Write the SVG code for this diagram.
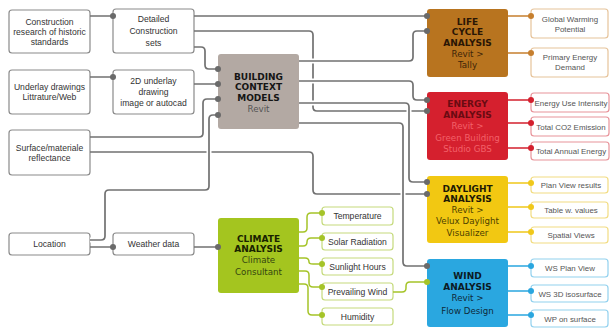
<svg xmlns="http://www.w3.org/2000/svg" width="610" height="328" viewBox="0 0 610 328">
<style>
.box{fill:#fff;stroke:#8a8a8a;stroke-width:1.2}
.t{font-family:"Liberation Sans",Arial,sans-serif;font-size:8.6px;fill:#333;text-anchor:middle}
.o{font-family:"Liberation Sans",Arial,sans-serif;font-size:7.9px;fill:#555;text-anchor:middle}
.h{font-family:"DejaVu Sans",sans-serif;font-weight:bold;font-size:9px;text-anchor:middle}
.s{font-family:"DejaVu Sans",sans-serif;font-size:8.7px;text-anchor:middle}
.g{fill:none;stroke:#717171;stroke-width:1.7}
.halo{fill:none;stroke:#fff;stroke-width:5}
.lca{fill:none;stroke:#c67f2e;stroke-width:1.5}
.en{fill:none;stroke:#d4202e;stroke-width:1.5}
.dl{fill:none;stroke:#f0c81a;stroke-width:1.5}
.wd{fill:none;stroke:#2aa6df;stroke-width:1.5}
.cl{fill:none;stroke:#a5c428;stroke-width:1.5}
.gd{fill:#6a6a6a}
</style>

<g id="n-construction"><rect class="box" x="9" y="10" width="81" height="43" rx="3"/><text class="t" x="49.5" y="25">Construction</text><text class="t" x="49.5" y="35">research of historic</text><text class="t" x="49.5" y="45">standards</text></g>
<g id="n-detailed"><rect class="box" x="113" y="9" width="81" height="44" rx="3"/><text class="t" x="153.5" y="22">Detailed</text><text class="t" x="153.5" y="34">Construction</text><text class="t" x="153.5" y="46">sets</text></g>
<g id="n-underlay"><rect class="box" x="9" y="70" width="81" height="44" rx="3"/><text class="t" x="49.5" y="90">Underlay drawings</text><text class="t" x="49.5" y="100">Littrature/Web</text></g>
<g id="n-2d"><rect class="box" x="113" y="70" width="81" height="44" rx="3"/><text class="t" x="153.5" y="84">2D underlay</text><text class="t" x="153.5" y="95">drawing</text><text class="t" x="153.5" y="106">image or autocad</text></g>
<g id="n-surface"><rect class="box" x="9" y="130" width="81" height="45" rx="3"/><text class="t" x="49.5" y="151">Surface/materiale</text><text class="t" x="49.5" y="161">reflectance</text></g>
<g id="n-location"><rect class="box" x="9" y="233" width="81" height="22" rx="3"/><text class="t" x="49.5" y="247">Location</text></g>
<g id="n-weather"><rect class="box" x="113" y="233" width="81" height="22" rx="3"/><text class="t" x="153.5" y="247">Weather data</text></g>

<g id="n-bcm"><rect x="218" y="54" width="81" height="75" rx="3" fill="#b3a9a3"/><text class="h" x="258.5" y="79.5" fill="#151515">BUILDING</text><text class="h" x="258.5" y="90" fill="#151515">CONTEXT</text><text class="h" x="258.5" y="100.5" fill="#151515">MODELS</text><text class="s" x="258.5" y="112" fill="#555">Revit</text></g>

<g id="n-lca"><rect x="427" y="9" width="81" height="68" rx="3" fill="#b8741f"/><text class="h" x="467.5" y="24.5" fill="#2a1605">LIFE</text><text class="h" x="467.5" y="35" fill="#2a1605">CYCLE</text><text class="h" x="467.5" y="45.5" fill="#2a1605">ANALYSIS</text><text class="s" x="467.5" y="56.5" fill="#3e2408">Revit &gt;</text><text class="s" x="467.5" y="68" fill="#3e2408">Tally</text></g>
<g id="n-gwp"><rect x="531" y="9" width="77" height="29" rx="3" fill="#fff" stroke="#e6c39a" stroke-width="1.2"/><text class="o" x="570" y="22">Global Warming</text><text class="o" x="570" y="32">Potential</text></g>
<g id="n-ped"><rect x="531" y="48" width="77" height="29" rx="3" fill="#fff" stroke="#e6c39a" stroke-width="1.2"/><text class="o" x="570" y="60">Primary Energy</text><text class="o" x="570" y="70">Demand</text></g>

<g id="n-energy"><rect x="427" y="92" width="81" height="68" rx="3" fill="#d5202e"/><text class="h" x="467.5" y="106.5" fill="#6a0b12">ENERGY</text><text class="h" x="467.5" y="117.5" fill="#6a0b12">ANALYSIS</text><text class="s" x="467.5" y="129" fill="#f3606a">Revit &gt;</text><text class="s" x="467.5" y="140.5" fill="#f3606a">Green Building</text><text class="s" x="467.5" y="152" fill="#f3606a">Studio GBS</text></g>
<g id="n-eui"><rect x="531" y="93" width="78" height="19" rx="3" fill="#fff" stroke="#e8939a" stroke-width="1.2"/><text class="o" x="571" y="105.5">Energy Use Intensity</text></g>
<g id="n-co2"><rect x="531" y="117" width="78" height="19" rx="3" fill="#fff" stroke="#e8939a" stroke-width="1.2"/><text class="o" x="571" y="129.5">Total CO2 Emission</text></g>
<g id="n-tae"><rect x="531" y="142" width="78" height="18" rx="3" fill="#fff" stroke="#e8939a" stroke-width="1.2"/><text class="o" x="571" y="154">Total Annual Energy</text></g>

<g id="n-daylight"><rect x="427" y="176" width="81" height="67" rx="3" fill="#f2c812"/><text class="h" x="467.5" y="191.5" fill="#1e1a05">DAYLIGHT</text><text class="h" x="467.5" y="201.5" fill="#1e1a05">ANALYSIS</text><text class="s" x="467.5" y="212.5" fill="#4d3f00">Revit &gt;</text><text class="s" x="467.5" y="224" fill="#4d3f00">Velux Daylight</text><text class="s" x="467.5" y="235.5" fill="#4d3f00">Visualizer</text></g>
<g id="n-pvr"><rect x="531" y="177" width="77" height="16" rx="3" fill="#fff" stroke="#f2dc82" stroke-width="1.2"/><text class="o" x="571" y="188">Plan View results</text></g>
<g id="n-tbl"><rect x="531" y="202" width="77" height="16" rx="3" fill="#fff" stroke="#f2dc82" stroke-width="1.2"/><text class="o" x="571" y="213">Table w. values</text></g>
<g id="n-spv"><rect x="531" y="227" width="77" height="16" rx="3" fill="#fff" stroke="#f2dc82" stroke-width="1.2"/><text class="o" x="571" y="238">Spatial Views</text></g>

<g id="n-wind"><rect x="427" y="259" width="81" height="68" rx="3" fill="#2aa7e0"/><text class="h" x="467.5" y="278.5" fill="#0c1a24">WIND</text><text class="h" x="467.5" y="289.5" fill="#0c1a24">ANALYSIS</text><text class="s" x="467.5" y="301" fill="#0f2a3a">Revit &gt;</text><text class="s" x="467.5" y="314" fill="#0f2a3a">Flow Design</text></g>
<g id="n-wsp"><rect x="531" y="259" width="77" height="18" rx="3" fill="#fff" stroke="#92d1ee" stroke-width="1.2"/><text class="o" x="570" y="271">WS Plan View</text></g>
<g id="n-ws3"><rect x="531" y="285" width="77" height="17" rx="3" fill="#fff" stroke="#92d1ee" stroke-width="1.2"/><text class="o" x="570" y="296.5">WS 3D isosurface</text></g>
<g id="n-wps"><rect x="531" y="310" width="77" height="17" rx="3" fill="#fff" stroke="#92d1ee" stroke-width="1.2"/><text class="o" x="570" y="321.5">WP on surface</text></g>

<g id="n-climate"><rect x="218" y="218" width="81" height="75" rx="3" fill="#a4c51f"/><text class="h" x="258.5" y="241.5" fill="#182200">CLIMATE</text><text class="h" x="258.5" y="251.5" fill="#182200">ANALYSIS</text><text class="s" x="258.5" y="263" fill="#354510">Climate</text><text class="s" x="258.5" y="275" fill="#354510">Consultant</text></g>
<g id="n-temp"><rect x="322" y="207" width="71" height="18" rx="3" fill="#fff" stroke="#c5da7c" stroke-width="1.2"/><text class="t" x="357.5" y="219">Temperature</text></g>
<g id="n-solar"><rect x="322" y="233" width="71" height="17" rx="3" fill="#fff" stroke="#c5da7c" stroke-width="1.2"/><text class="t" x="357.5" y="244.5">Solar Radiation</text></g>
<g id="n-sun"><rect x="322" y="258" width="71" height="17" rx="3" fill="#fff" stroke="#c5da7c" stroke-width="1.2"/><text class="t" x="357.5" y="269.5">Sunlight Hours</text></g>
<g id="n-pw"><rect x="322" y="283" width="71" height="17" rx="3" fill="#fff" stroke="#c5da7c" stroke-width="1.2"/><text class="t" x="357.5" y="294.5">Prevailing Wind</text></g>
<g id="n-hum"><rect x="322" y="308" width="71" height="17" rx="3" fill="#fff" stroke="#c5da7c" stroke-width="1.2"/><text class="t" x="357.5" y="319.5">Humidity</text></g>

<g id="connectors">
<path class="g" d="M90,16H113M90,77H113M90,247H113M194,247H218M194,16H427M194,84H218"/>
<path class="g" d="M194,47H201Q205,47 205,51V65Q205,69 209,69H218"/>
<path class="g" d="M90,137H199Q203,137 203,133V103Q203,99 207,99H218"/>
<path class="g" d="M90,152H309Q313,152 313,156V190Q313,194 317,194H427"/>
<path class="halo" d="M90,240H101Q105,240 105,236V194Q105,190 109,190H205Q209,190 209,186V119Q209,115 213,115H218"/>
<path class="g" d="M90,240H101Q105,240 105,236V194Q105,190 109,190H205Q209,190 209,186V119Q209,115 213,115H218"/>
<path class="g" d="M194,31H309Q313,31 313,35V107Q313,111 317,111H427"/>
<path class="halo" d="M299,61H409Q413,61 413,57V35Q413,31 417,31H427"/>
<path class="g" d="M299,61H409Q413,61 413,57V35Q413,31 417,31H427"/>
<path class="halo" d="M299,81H409Q413,81 413,85V96Q413,100 417,100H427"/>
<path class="g" d="M299,81H409Q413,81 413,85V96Q413,100 417,100H427"/>
<path class="halo" d="M299,103H405Q409,103 409,107V178Q409,182 413,182H427"/>
<path class="g" d="M299,103H405Q409,103 409,107V178Q409,182 413,182H427"/>
<path class="halo" d="M299,123H399Q403,123 403,127V262Q403,266 407,266H427"/>
<path class="g" d="M299,123H399Q403,123 403,127V262Q403,266 407,266H427"/>
<path class="lca" d="M508,16H531M508,53H531"/>
<path class="en" d="M508,100H531M508,123H531M508,148H531"/>
<path class="dl" d="M508,183H531M508,207H531M508,232H531"/>
<path class="wd" d="M508,266H531M508,291H531M508,315H531"/>
<path class="cl" d="M299,232H303Q307,232 307,228V217Q307,213 311,213H322"/>
<path class="cl" d="M299,246H303Q307,246 307,242Q307,238 311,238H322"/>
<path class="cl" d="M299,258H305Q309,258 309,262Q309,264 313,264H322"/>
<path class="cl" d="M299,271H305Q309,271 309,275V283Q309,287 313,287H322"/>
<path class="cl" d="M299,284H304Q308,284 308,288V311Q308,315 312,315H322"/>
<path class="cl" d="M393,292H402Q406,292 406,288V286Q406,282 410,282H427"/>
<g class="gd"><circle cx="113" cy="16" r="3"/><circle cx="113" cy="77" r="3"/><circle cx="113" cy="247" r="3"/><circle cx="218" cy="247" r="3"/><circle cx="218" cy="69" r="3"/><circle cx="218" cy="84" r="3"/><circle cx="218" cy="99" r="3"/><circle cx="218" cy="115" r="3"/><circle cx="427" cy="16" r="3"/><circle cx="427" cy="31" r="3"/><circle cx="427" cy="100" r="3"/><circle cx="427" cy="111" r="3"/><circle cx="427" cy="182" r="3"/><circle cx="427" cy="194" r="3"/><circle cx="427" cy="266" r="3"/></g>
<g fill="#c67f2e"><circle cx="531" cy="16" r="3"/><circle cx="531" cy="53" r="3"/></g>
<g fill="#d4202e"><circle cx="531" cy="100" r="3"/><circle cx="531" cy="123" r="3"/><circle cx="531" cy="148" r="3"/></g>
<g fill="#f0c81a"><circle cx="531" cy="183" r="3"/><circle cx="531" cy="207" r="3"/><circle cx="531" cy="232" r="3"/></g>
<g fill="#2aa6df"><circle cx="531" cy="266" r="3"/><circle cx="531" cy="291" r="3"/><circle cx="531" cy="315" r="3"/></g>
<g fill="#a5c428"><circle cx="322" cy="213" r="3"/><circle cx="322" cy="238" r="3"/><circle cx="322" cy="264" r="3"/><circle cx="322" cy="287" r="3"/><circle cx="322" cy="315" r="3"/><circle cx="427" cy="282" r="3"/></g>
</g>
</svg>
